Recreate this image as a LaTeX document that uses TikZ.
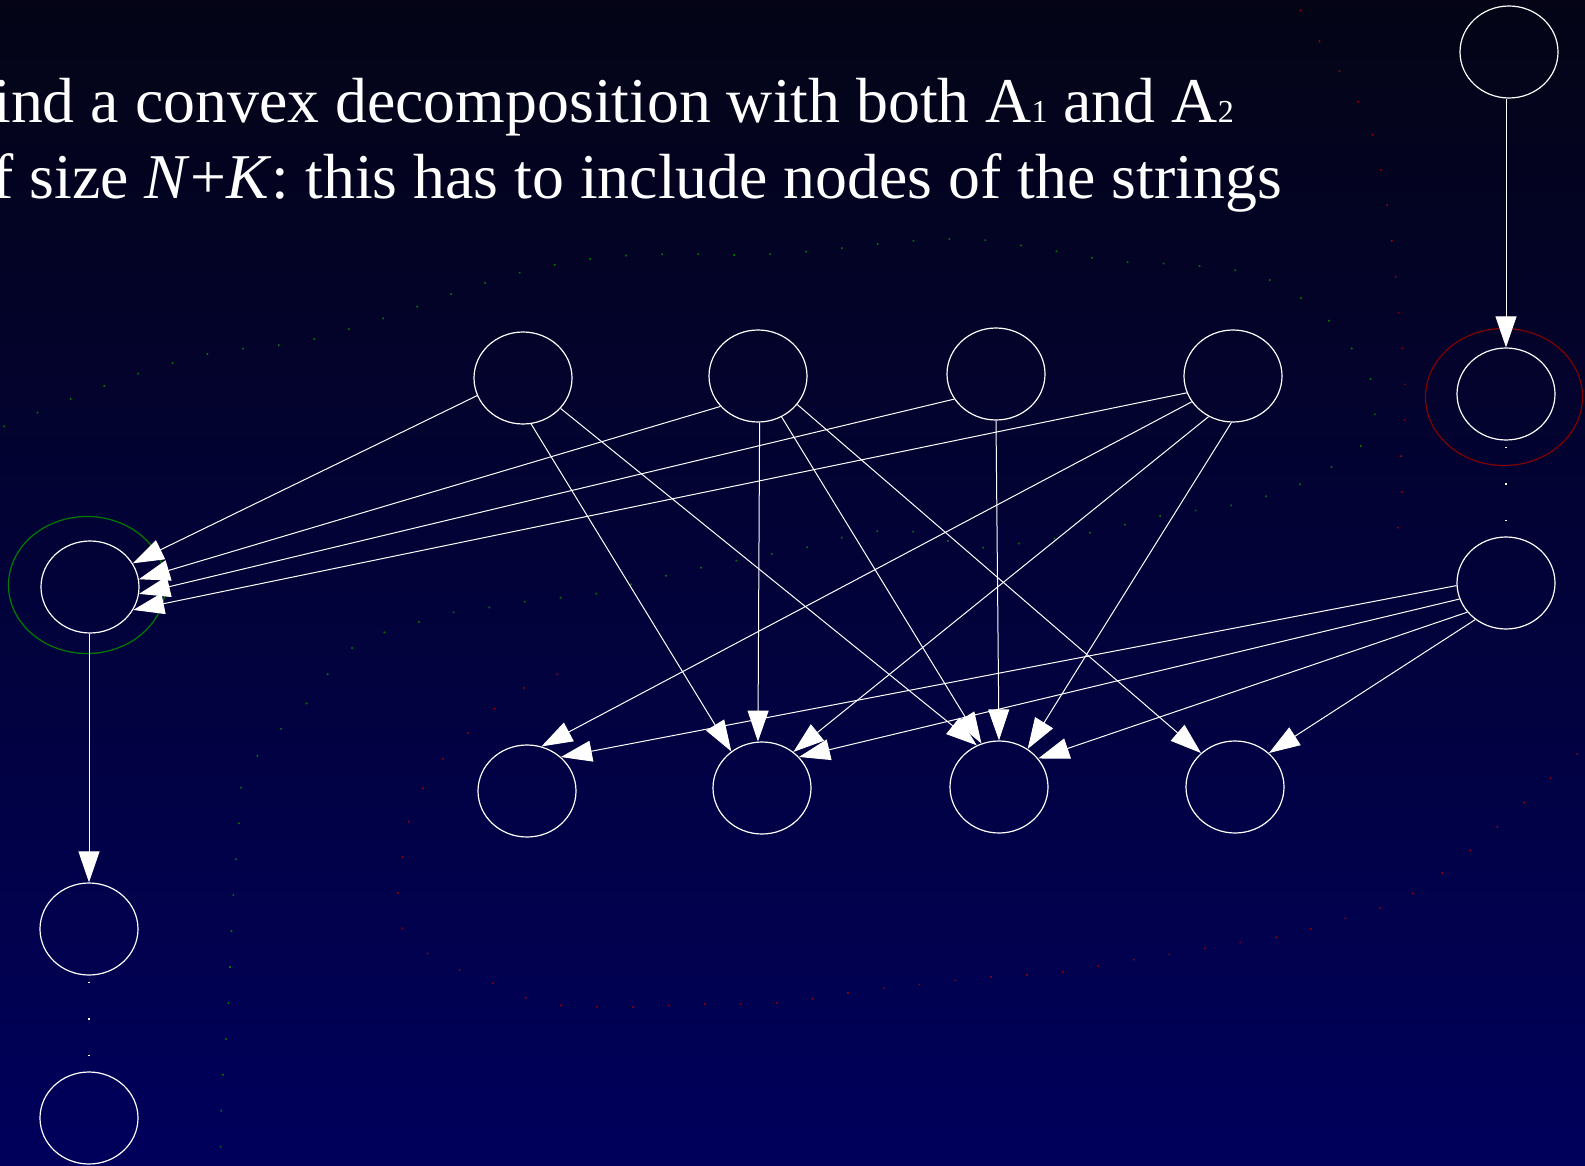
\documentclass[tikz,border=0pt]{standalone}
\usepackage{fontspec}
\setmainfont{Liberation Serif}
\usetikzlibrary{shapes.geometric,arrows.meta}
\definecolor{bgtop}{RGB}{4,4,22}
\definecolor{bgbot}{RGB}{0,0,92}
\definecolor{ringgreen}{RGB}{0,125,0}
\definecolor{ringred}{RGB}{130,0,0}
\definecolor{dotgreen}{RGB}{0,120,0}
\definecolor{dotred}{RGB}{150,0,0}
\begin{document}
\begin{tikzpicture}[x=1pt,y=-1pt,
  vert/.style={ellipse,draw=white,line width=1.2pt,minimum width=98pt,minimum height=92pt,inner sep=0pt},
  ring/.style={ellipse,line width=1.2pt,minimum width=157pt,minimum height=137pt,inner sep=0pt},
  edge/.style={draw=white,line width=1pt,-{Triangle[length=31pt,width=21pt,fill=white]}},
  dotline/.style={draw=white,line width=1.5pt,dash pattern=on 1.5pt off 35pt,dash phase=30.5pt},
  faint/.style={line width=1.6pt,dash pattern=on 1.6pt off 34.4pt},
  title/.style={text=white,font=\fontsize{63.8}{74}\selectfont,inner sep=0pt}]
\useasboundingbox (0,0) rectangle (1585,1166);
\clip (0,0) rectangle (1585,1166);
\shade[top color=bgtop,bottom color=bgbot] (0,0) rectangle (1585,1166);

% faint dotted curves
\draw[faint,dotgreen] plot[smooth] coordinates {(-30,440) (10,424) (78,396) (146,371) (217,352) (289,344) (325,336) (394,315) (463,290) (534,269) (606,257) (679,254) (752,255) (825,250) (898,242) (971,239) (1043,249) (1114,261) (1188,265) (1260,276) (1322,314) (1367,371) (1375,407) (1366,441) (1307,481) (1238,504) (1165,515) (1094,532) (1022,543) (988,548) (952,542) (916,532) (880,531) (844,537) (809,547) (760,556) (700,568) (640,582) (595,594) (558,598) (522,602) (486,608) (450,613) (415,623) (380,634) (348,651) (324,679) (303,708) (276,734) (253,762) (239,795) (239,832) (235,868) (231,941) (228,1014) (222,1087) (221,1124) (220,1180)};
\draw[faint,dotred] plot[smooth] coordinates {(1300,10) (1314,33) (1334,63) (1354,94) (1370,127) (1379,162) (1386,198) (1391,234) (1395,270) (1398,307) (1402,343) (1405,380) (1405,416) (1401,452) (1402,489) (1399,525) (1380,556)};
\draw[faint,dotred] plot[smooth] coordinates {(558,674) (524,688) (494,709) (467,734) (442,760) (422,790) (408,824) (402,861) (398,897) (404,932) (431,956) (464,972) (499,986) (532,1000) (567,1006) (605,1007) (641,1007) (678,1005) (714,1004) (752,1004) (787,1002) (824,997) (860,991) (896,987) (932,983) (969,979) (1005,976) (1041,974) (1078,970) (1114,963) (1150,957) (1187,952) (1222,945) (1258,940) (1294,934) (1328,923) (1364,913) (1399,901) (1430,882) (1459,860) (1487,836) (1514,812) (1541,787) (1568,762) (1600,735)};

% title text
\node[title,anchor=base east] (line1) at (1234,123) {Find a convex decomposition with both A{\fontsize{32}{32}\selectfont 1} and A{\fontsize{32}{32}\selectfont 2}};
\node[title,anchor=base east] (line2) at (1282,199) {of size \textit{N}+\textit{K}: this has to include nodes of the strings};

% nodes
\node[vert] (T1) at (523,378) {};
\node[vert] (T2) at (758,376) {};
\node[vert] (T3) at (996,374) {};
\node[vert] (T4) at (1233,376) {};
\node[vert] (B1) at (527,791) {};
\node[vert] (B2) at (762,788) {};
\node[vert] (B3) at (999,787) {};
\node[vert] (B4) at (1235,787) {};
\node[vert] (L) at (90,587) {};
\node[ring,draw=ringgreen] (Lring) at (87,585) {};
\node[vert] (L2) at (89,929) {};
\node[vert] (L3) at (89,1118) {};
\node[vert] (R0) at (1509,52) {};
\node[vert] (R1) at (1506,394) {};
\node[ring,draw=ringred] (Rring) at (1504,397) {};
\node[vert] (R2) at (1506,583) {};

% edges
\draw[edge] (T1.201) -- (L.29);
\draw[edge] (T2.219) -- (L.9);
\draw[edge] (T3.211) -- (L.-8);
\draw[edge] (T4.200) -- (L.-28);
\draw[edge] (T1.280) -- (B2.130);
\draw[edge] (T1.321) -- (B3.118);
\draw[edge] (T2.272) -- (B2.95);
\draw[edge] (T2.300) -- (B3.112);
\draw[edge] (T2.324) -- (B4.135);
\draw[edge] (T3.270) -- (B3.90);
\draw[edge] (T4.212) -- (B1.72);
\draw[edge] (T4.239) -- (B2.49);
\draw[edge] (T4.268) -- (B3.53);
\draw[edge] (R2.183) -- (B1.45);
\draw[edge] (R2.199) -- (B2.40);
\draw[edge] (R2.217) -- (B3.36);
\draw[edge] (R2.230) -- (B4.45);
\draw[edge] (R1.north |- R0.south) -- (R1.north);
\draw[edge] (L2.north |- L.south) -- (L2.north);
\draw[dotline] (R1.south) -- (R2.north);
\draw[dotline] (L2.south) -- (L3.north);
\end{tikzpicture}
\end{document}
